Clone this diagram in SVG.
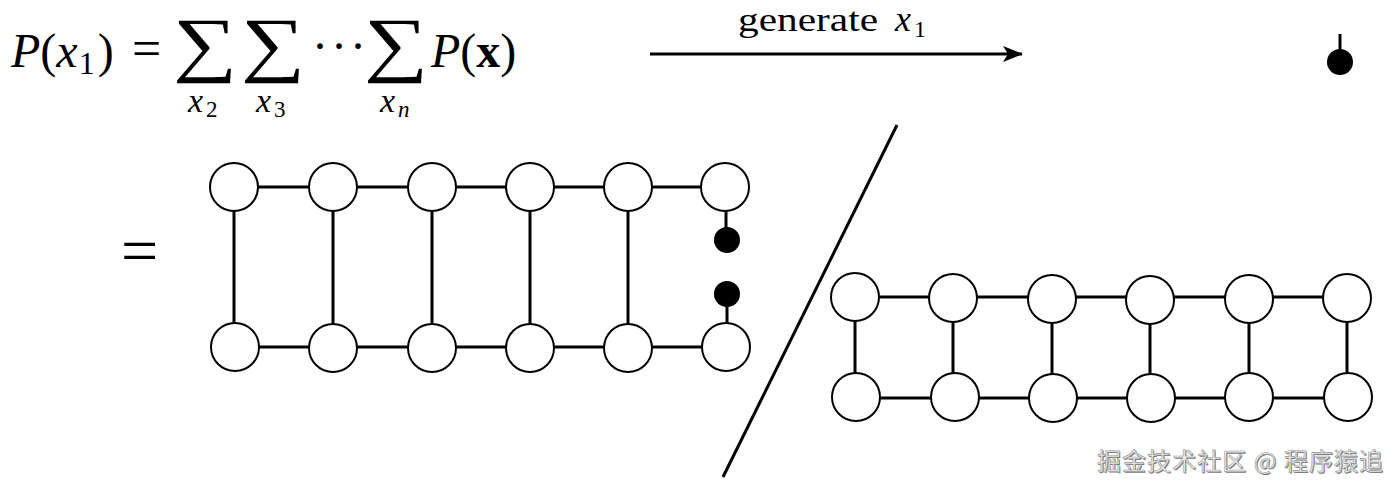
<svg xmlns="http://www.w3.org/2000/svg" width="1400" height="489" viewBox="0 0 1400 489">
<style>
.n{fill:#fff;stroke:#000;stroke-width:2}
.d{fill:#000}
.e{stroke:#000;stroke-width:3;fill:none}
.m{font-family:"Liberation Serif","DejaVu Serif",serif;fill:#000}
.i{font-style:italic}
.s{font-size:72px}
.wm{font-family:"Noto Sans CJK SC",sans-serif;font-size:24px}
</style>
<defs>
<marker id="ah" viewBox="0 0 20 16" refX="19" refY="8" markerWidth="20" markerHeight="16" markerUnits="userSpaceOnUse" orient="auto">
<path d="M0,0 L20,8 L0,16 L5,8 Z" fill="#000"/>
</marker>
</defs>
<rect width="1400" height="489" fill="#fff"/>
<g id="formula">
<text class="m" x="11" y="67" font-size="48"><tspan class="i">P</tspan>(<tspan class="i">x</tspan><tspan font-size="32" dy="7" dx="1">1</tspan><tspan dy="-7" dx="3">)</tspan></text>
<text class="m" x="132" y="66" font-size="52">=</text>
<text class="m s" transform="translate(173,68) scale(1.25,1)">∑</text>
<text class="m s" transform="translate(241,68) scale(1.25,1)">∑</text>
<text class="m" x="312" y="62" font-size="48" letter-spacing="3">···</text>
<text class="m s" transform="translate(364,68) scale(1.25,1)">∑</text>
<text class="m" x="431" y="67" font-size="48"><tspan class="i">P</tspan>(<tspan font-weight="bold">x</tspan>)</text>
<text class="m i" x="188" y="112" font-size="34">x</text>
<text class="m" x="206" y="117" font-size="23">2</text>
<text class="m i" x="256" y="112" font-size="34">x</text>
<text class="m" x="274" y="117" font-size="23">3</text>
<text class="m i" x="380" y="112" font-size="34">x</text>
<text class="m i" x="398" y="117" font-size="23">n</text>
<text class="m" x="121" y="273" font-size="66">=</text>
</g>
<g id="label">
<text class="m" x="738" y="31" font-size="34" textLength="140" lengthAdjust="spacingAndGlyphs">generate</text>
<text class="m i" x="895" y="31" font-size="36">x</text>
<text class="m" x="914" y="37" font-size="24">1</text>
</g>
<g id="connectors">
<line class="e" x1="650" y1="54" x2="1022" y2="54" stroke-width="2" marker-end="url(#ah)"/>
<line class="e" x1="897" y1="125" x2="723" y2="477"/>
<line class="e" x1="1340" y1="34" x2="1340" y2="55"/>
<path class="e" d="M234,187H725 M234,347H725 M234,187V347 M333,187V347 M432,187V347 M530,187V347 M628,187V347 M726,187V240 M727,294V347"/>
<path class="e" d="M855,297H1347 M855,398H1347 M855,297V398 M953,297V398 M1052,297V398 M1150,297V398 M1249,297V398 M1347,297V398"/>
</g>
<g id="left-graph">
<circle class="n" cx="234" cy="187" r="24"/><circle class="n" cx="333" cy="187" r="24"/><circle class="n" cx="432" cy="187" r="24"/><circle class="n" cx="530" cy="187" r="24"/><circle class="n" cx="628" cy="187" r="24"/><circle class="n" cx="725" cy="187" r="24"/>
<circle class="n" cx="235" cy="347" r="24"/><circle class="n" cx="333" cy="348" r="24"/><circle class="n" cx="432" cy="348" r="24"/><circle class="n" cx="530" cy="348" r="24"/><circle class="n" cx="628" cy="348" r="24"/><circle class="n" cx="726" cy="347" r="24"/>
<circle class="d" cx="727" cy="240" r="13"/><circle class="d" cx="727" cy="294" r="13"/>
</g>
<g id="right-graph">
<circle class="n" cx="855" cy="297" r="24"/><circle class="n" cx="953" cy="298" r="24"/><circle class="n" cx="1052" cy="299" r="24"/><circle class="n" cx="1150" cy="300" r="24"/><circle class="n" cx="1249" cy="299" r="24"/><circle class="n" cx="1347" cy="298" r="24"/>
<circle class="n" cx="856" cy="397" r="24"/><circle class="n" cx="955" cy="397" r="24"/><circle class="n" cx="1053" cy="398" r="24"/><circle class="n" cx="1151" cy="398" r="24"/><circle class="n" cx="1249" cy="397" r="24"/><circle class="n" cx="1348" cy="397" r="24"/>
</g>
<g id="dot">
<circle class="d" cx="1340" cy="62" r="13"/>
</g>
<g id="watermark">
<text class="wm" x="1098" y="471" fill="#777" textLength="286">掘金技术社区 @ 程序猿追</text>
<text class="wm" x="1097" y="470" fill="#eee" stroke="#999" stroke-width="0.6" textLength="286">掘金技术社区 @ 程序猿追</text>
</g>
</svg>
